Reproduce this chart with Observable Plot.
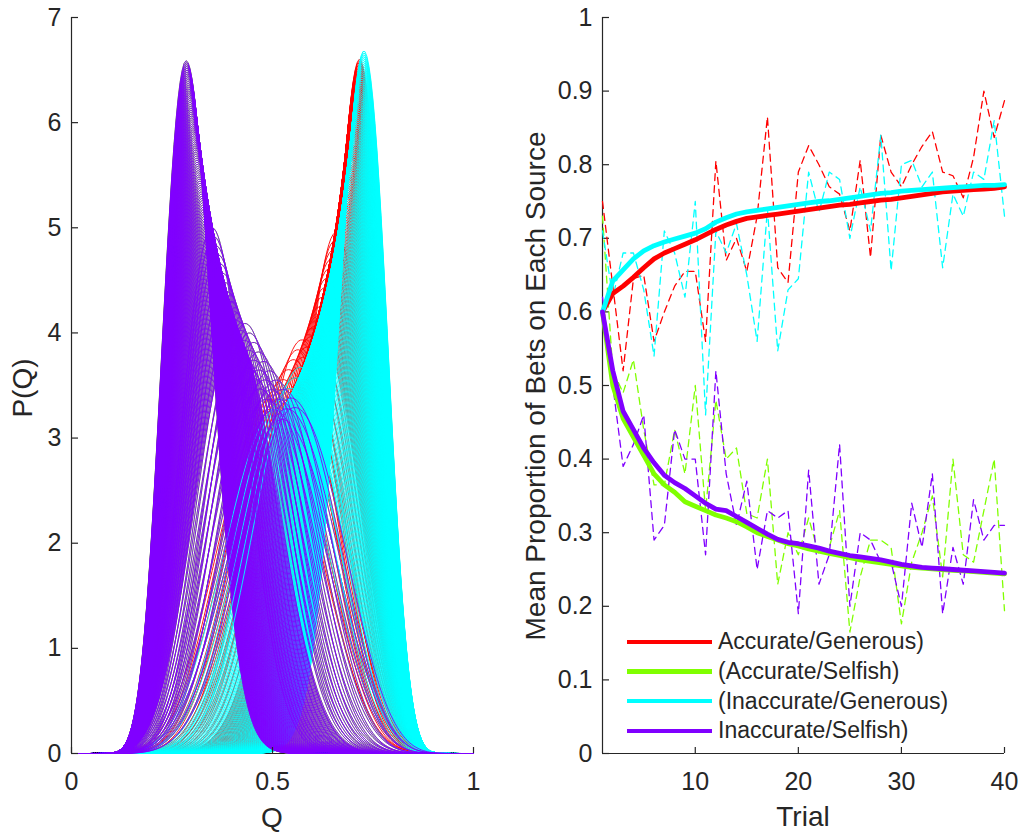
<!DOCTYPE html>
<html>
<head>
<meta charset="utf-8">
<script src="https://cdn.jsdelivr.net/npm/d3@7"></script>
<script src="https://cdn.jsdelivr.net/npm/@observablehq/plot@0.6"></script>
<style>
  html, body { margin: 0; padding: 0; background: #ffffff; }
  #wrap { position: relative; width: 1029px; height: 832px; overflow: hidden;
          font-family: "Liberation Sans", Arial, Helvetica, sans-serif; color: #262626; }
  #left { position: absolute; left: 0; top: 0; }
  #right { position: absolute; left: 510px; top: 0; }
  .atitle { position: absolute; white-space: nowrap; font-size: 28px; line-height: 1; transform: translate(-50%, -50%); }
  .atitle.rot { transform: translate(-50%, -50%) rotate(-90deg); }
  #legend { position: absolute; left: 627px; top: 627px; }
  .lrow { display: flex; align-items: center; height: 29.7px; }
  .lsw { width: 85px; height: 4.5px; margin-right: 6px; }
  .ltx { font-size: 23px; line-height: 1; }
</style>
</head>
<body>
<div id="wrap">
  <div id="left"></div>
  <div id="right"></div>
  <div class="atitle rot" style="left:23px; top:388px;">P(Q)</div>
  <div class="atitle" style="left:272px; top:818px;">Q</div>
  <div class="atitle" style="left:803px; top:817px;">Trial</div>
  <div class="atitle rot" style="left:536px; top:386px;">Mean Proportion of Bets on Each Source</div>
  <div id="legend"></div>
</div>
<script>
// ---------------- data ----------------
const groupNames  = ["Accurate/Generous)", "(Accurate/Selfish)", "(Inaccurate/Generous)", "Inaccurate/Selfish)"];
const groupColors = ["#ff0000", "#80ff00", "#00ffff", "#8000ff"];

// right panel: trials and values
const trials = [1,2,3,4,5,6,7,8,9,10,11,12,13,14,15,16,17,18,19,20,21,22,23,24,25,26,27,28,29,30,31,32,33,34,35,36,37,38,39,40];

// per-trial proportions (dashed)
const trialAccGen  = [0.75,0.635,0.52,0.645,0.65,0.56,0.60,0.635,0.655,0.655,0.56,0.805,0.67,0.70,0.655,0.73,0.865,0.66,0.64,0.79,0.826,0.80,0.77,0.76,0.71,0.806,0.674,0.84,0.79,0.77,0.80,0.825,0.845,0.79,0.785,0.755,0.81,0.90,0.837,0.887];
const trialAccSel  = [0.73,0.52,0.49,0.535,0.44,0.365,0.365,0.44,0.38,0.50,0.33,0.48,0.40,0.415,0.326,0.32,0.40,0.23,0.30,0.27,0.32,0.27,0.28,0.33,0.165,0.24,0.29,0.29,0.28,0.176,0.26,0.30,0.35,0.24,0.40,0.27,0.26,0.33,0.40,0.194];
const trialInaGen  = [0.71,0.62,0.68,0.68,0.63,0.54,0.71,0.68,0.62,0.75,0.46,0.71,0.68,0.72,0.65,0.56,0.74,0.547,0.63,0.645,0.79,0.735,0.79,0.78,0.70,0.77,0.71,0.84,0.656,0.80,0.806,0.77,0.79,0.66,0.76,0.73,0.79,0.78,0.86,0.73];
const trialInaSel  = [0.62,0.50,0.39,0.42,0.46,0.29,0.31,0.44,0.40,0.40,0.27,0.52,0.38,0.31,0.37,0.25,0.33,0.32,0.33,0.19,0.385,0.23,0.27,0.42,0.20,0.30,0.29,0.26,0.26,0.20,0.34,0.28,0.38,0.19,0.28,0.23,0.345,0.29,0.31,0.31];

// mean (solid, thick)
const meanAccGen = [0.60,0.625,0.635,0.647,0.66,0.672,0.68,0.686,0.692,0.698,0.705,0.712,0.718,0.723,0.727,0.729,0.731,0.733,0.735,0.737,0.739,0.741,0.743,0.745,0.746,0.748,0.750,0.752,0.753,0.755,0.757,0.759,0.761,0.763,0.764,0.765,0.766,0.767,0.768,0.770];
const meanAccSel = [0.60,0.50,0.455,0.43,0.405,0.38,0.365,0.355,0.342,0.336,0.33,0.324,0.32,0.315,0.308,0.30,0.295,0.29,0.285,0.282,0.278,0.275,0.272,0.269,0.266,0.263,0.261,0.259,0.257,0.255,0.253,0.252,0.251,0.250,0.249,0.248,0.247,0.246,0.245,0.244];
const meanInaGen = [0.60,0.642,0.657,0.672,0.683,0.690,0.695,0.699,0.703,0.707,0.713,0.722,0.728,0.733,0.736,0.738,0.740,0.742,0.744,0.746,0.748,0.750,0.751,0.753,0.755,0.757,0.759,0.761,0.762,0.764,0.765,0.766,0.767,0.768,0.769,0.770,0.771,0.772,0.772,0.773];
const meanInaSel = [0.60,0.52,0.465,0.44,0.415,0.395,0.378,0.368,0.36,0.35,0.34,0.332,0.33,0.322,0.314,0.306,0.298,0.291,0.287,0.285,0.282,0.279,0.275,0.272,0.269,0.267,0.265,0.263,0.26,0.257,0.255,0.253,0.252,0.251,0.25,0.249,0.248,0.247,0.246,0.245];

const trialSeries = [trialAccGen, trialAccSel, trialInaGen, trialInaSel];
const meanSeries  = [meanAccGen, meanAccSel, meanInaGen, meanInaSel];

// left panel: Beta posterior curves P(Q), parameters
const priorShape  = [8.5, 7.8];                 // widest curve: mode ~0.52, peak ~3.3
const sourceRate  = [0.785, 0.20, 0.80, 0.20];  // final modes ~0.72 / 0.29, peaks ~6.7 / 6.6
const spreadMax   = [1.4, 1.5, 0.6, 1.5];       // extra/fewer successes seen early on
const spreadSide  = [-1, 1, -1, 1];             // towards the middle of the Q range
const spreadUntil = 30;                         // trial after which the curves no longer fan out
const maxUpdates  = 40;                         // 40 trials of updating
const denseFrom   = [8, 8, 2, 8];               // from this trial on, curves drawn every quarter trial
const drawLayers  = [[0, 1], [2, 3]];           // red/green underneath, cyan/purple on top

// ticks
const qTicks     = [0, 0.5, 1];
const pTicks     = [0, 1, 2, 3, 4, 5, 6, 7];
const trialTicks = [10, 20, 30, 40];
const propTicks  = [0, 0.1, 0.2, 0.3, 0.4, 0.5, 0.6, 0.7, 0.8, 0.9, 1];

// ---------------- helpers ----------------
function lnGamma(z) {
  const c = [0.99999999999980993, 676.5203681218851, -1259.1392167224028, 771.32342877765313,
             -176.61502916214059, 12.507343278686905, -0.13857109526572012, 9.9843695780195716e-6, 1.5056327351493116e-7];
  if (z < 0.5) return Math.log(Math.PI / Math.sin(Math.PI * z)) - lnGamma(1 - z);
  z -= 1;
  let x = c[0];
  for (let i = 1; i < 9; i++) x += c[i] / (z + i);
  const t = z + 7.5;
  return 0.5 * Math.log(2 * Math.PI) + (z + 0.5) * Math.log(t) - t + Math.log(x);
}
function betaPdf(q, a, b, lnB) {
  if (q <= 0 || q >= 1) return 0;
  return Math.exp((a - 1) * Math.log(q) + (b - 1) * Math.log(1 - q) - lnB);
}

const axisColor = "#262626";
const font = "'Liberation Sans', Arial, Helvetica, sans-serif";
const fmt = d => String(d);

// ---------------- left panel ----------------
const qGrid = d3.range(0, 1.00001, 0.005);
const curvePts = [];
let cid = 0;
function addCurve(n, k, col) {
  k = Math.min(n, Math.max(0, k));
  const a = priorShape[0] + k, b = priorShape[1] + n - k;
  const lnB = lnGamma(a) + lnGamma(b) - lnGamma(a + b);
  for (const q of qGrid) curvePts.push({q, p: betaPdf(q, a, b, lnB), id: cid, color: col});
  cid++;
}
for (const layer of drawLayers) {
  // expected-path curves (dense late in the session)
  for (const g of layer) {
    for (let n = 0; n <= maxUpdates + 1e-9; n += (n < denseFrom[g] ? 1 : 0.25)) addCurve(n, sourceRate[g] * n, groupColors[g]);
  }
  // curves that fan out towards the middle early in the session
  for (const g of layer) {
    for (let n = 1; n < spreadUntil; n++) {
      const w = spreadMax[g] * (1 - n / spreadUntil);
      for (let s = 1; s * 0.5 <= w; s++) addCurve(n, sourceRate[g] * n + spreadSide[g] * s * 0.5, groupColors[g]);
    }
  }
}

const frameW = 402, frameH = 736;

const leftPlot = Plot.plot({
  width: 510, height: 832,
  marginLeft: 71, marginRight: 37, marginTop: 17, marginBottom: 79,
  style: {fontFamily: font, fontSize: "25px", color: axisColor, background: "transparent", overflow: "visible"},
  x: {domain: [0, 1]},
  y: {domain: [0, 7]},
  marks: [
    Plot.ruleX([0], {stroke: axisColor, strokeWidth: 1.2}),
    Plot.ruleY([0], {stroke: axisColor, strokeWidth: 1.2}),
    Plot.line(curvePts, {x: "q", y: "p", z: "id", stroke: "color", strokeWidth: 0.9, curve: "linear"}),
    Plot.tickX(qTicks, {x: d => d, stroke: axisColor, strokeWidth: 1.2, insetTop: frameH - 6}),
    Plot.tickY(pTicks, {y: d => d, stroke: axisColor, strokeWidth: 1.2, insetRight: frameW - 7}),
    Plot.axisX({ticks: qTicks, tickSize: 0, tickPadding: 19, label: null, fill: axisColor, tickFormat: fmt}),
    Plot.axisY({ticks: pTicks, tickSize: 0, tickPadding: 10, label: null, fill: axisColor, tickFormat: fmt})
  ]
});
document.getElementById("left").appendChild(leftPlot);

// ---------------- right panel ----------------
const dashRows = [], meanRows = [];
groupColors.forEach((col, g) => {
  trials.forEach((t, i) => {
    dashRows.push({trial: t, v: trialSeries[g][i], g: groupNames[g], color: col});
    meanRows.push({trial: t, v: meanSeries[g][i], g: groupNames[g], color: col});
  });
});

const rightPlot = Plot.plot({
  width: 519, height: 832,
  marginLeft: 92, marginRight: 25, marginTop: 17, marginBottom: 79,
  style: {fontFamily: font, fontSize: "25px", color: axisColor, background: "transparent", overflow: "visible"},
  x: {domain: [1, 40]},
  y: {domain: [0, 1]},
  marks: [
    Plot.ruleX([1], {stroke: axisColor, strokeWidth: 1.2}),
    Plot.ruleY([0], {stroke: axisColor, strokeWidth: 1.2}),
    Plot.tickX(trialTicks, {x: d => d, stroke: axisColor, strokeWidth: 1.2, insetTop: frameH - 6}),
    Plot.tickY(propTicks, {y: d => d, stroke: axisColor, strokeWidth: 1.2, insetRight: frameW - 7}),
    Plot.line(dashRows, {x: "trial", y: "v", z: "g", stroke: "color", strokeWidth: 1.3, strokeDasharray: "7,5"}),
    Plot.line(meanRows, {x: "trial", y: "v", z: "g", stroke: "color", strokeWidth: 4.8, strokeLinejoin: "round"}),
    Plot.axisX({ticks: trialTicks, tickSize: 0, tickPadding: 19, label: null, fill: axisColor, tickFormat: fmt}),
    Plot.axisY({ticks: propTicks, tickSize: 0, tickPadding: 10, label: null, fill: axisColor, tickFormat: fmt})
  ]
});
document.getElementById("right").appendChild(rightPlot);

// ---------------- legend ----------------
const legend = document.getElementById("legend");
groupNames.forEach((name, g) => {
  const row = document.createElement("div");
  row.className = "lrow";
  const sw = document.createElement("div");
  sw.className = "lsw";
  sw.style.background = groupColors[g];
  const tx = document.createElement("span");
  tx.className = "ltx";
  tx.textContent = name;
  row.appendChild(sw); row.appendChild(tx);
  legend.appendChild(row);
});
</script>
</body>
</html>
